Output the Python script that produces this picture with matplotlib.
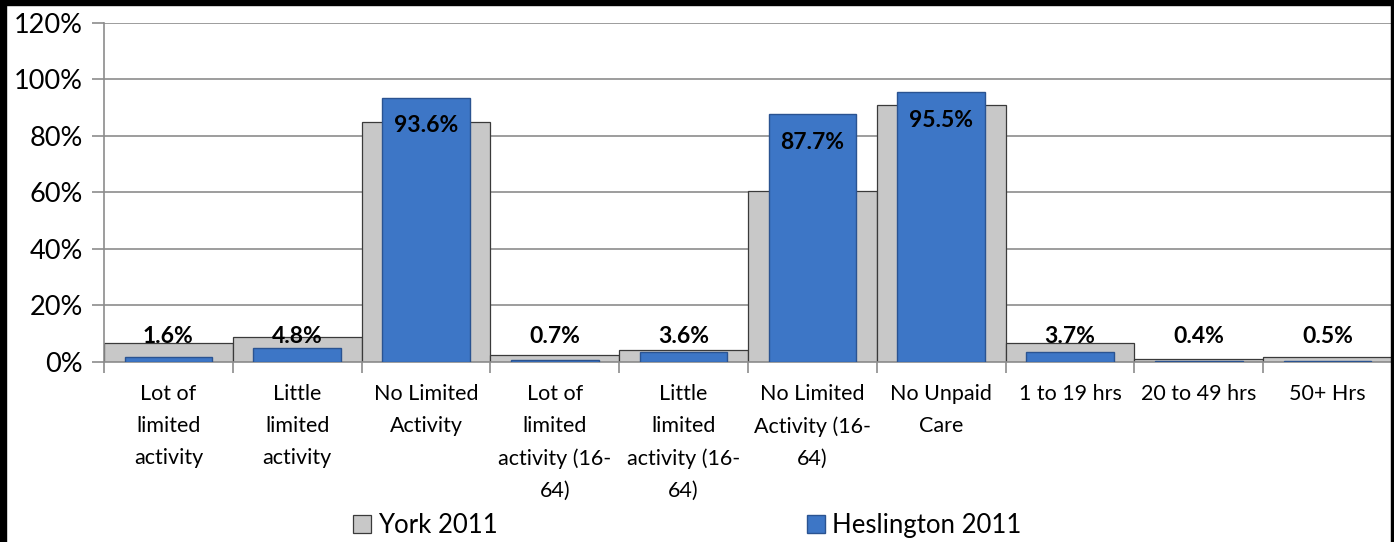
import numpy as np
import matplotlib.pyplot as plt
from matplotlib.patches import Rectangle

plt.rcParams['font.family'] = ['Lato', 'DejaVu Sans']

categories = ['Lot of\nlimited\nactivity', 'Little\nlimited\nactivity', 'No Limited\nActivity',
              'Lot of\nlimited\nactivity (16-\n64)', 'Little\nlimited\nactivity (16-\n64)',
              'No Limited\nActivity (16-\n64)', 'No Unpaid\nCare', '1 to 19 hrs',
              '20 to 49 hrs', '50+ Hrs']
york = [6.6, 8.7, 84.8, 2.5, 4.1, 60.6, 91.0, 6.6, 1.0, 1.9]
heslington = [1.6, 4.8, 93.6, 0.7, 3.6, 87.7, 95.5, 3.7, 0.4, 0.5]
yticks = [0, 20, 40, 60, 80, 100, 120]

fig = plt.figure(figsize=(13.94, 5.42), dpi=100)
ax = fig.add_axes([0.0746, 0.3321, 0.9240, 0.6255])

x = np.arange(len(categories))
b1 = ax.bar(x, york, width=1.0, color='#C8C8C8', edgecolor='#3A3A3A', linewidth=0.9,
            label='York 2011', zorder=2)
b2 = ax.bar(x, heslington, width=0.68, color='#3D76C6', edgecolor='#2A5391', linewidth=1.0,
            label='Heslington 2011', zorder=3)

# data labels: inside end for tall bars, fixed low spot for small ones
for xi, v in zip(x, heslington):
    ax.text(xi, max(v - 10, 9), f'{v:.1f}%', ha='center', va='center',
            fontsize=16.5, fontweight='bold', color='black', zorder=4)

ax.set_xlim(-0.5, len(categories) - 0.5)
ax.set_ylim(0, 120)
ax.set_yticks(yticks)
ax.set_yticklabels([f'{t}%' for t in yticks], fontsize=19.5)
ax.yaxis.grid(True, color='#8C8C8C', linewidth=1.2, zorder=0)
ax.set_axisbelow(True)

ax.set_xticks(x)
ax.set_xticklabels(categories, fontsize=15.5, linespacing=1.75, va='top')
ax.set_xticks(np.arange(len(categories) + 1) - 0.5, minor=True)
ax.tick_params(axis='x', which='major', length=0, pad=16)
ax.tick_params(axis='x', which='minor', length=8, color='#8C8C8C', width=1.2)
ax.tick_params(axis='y', length=9, color='#8C8C8C', width=1.2, pad=6)

for s in ['top', 'right']:
    ax.spines[s].set_visible(False)
for s in ['left', 'bottom']:
    ax.spines[s].set_color('#8C8C8C')
    ax.spines[s].set_linewidth(1.2)

fig.legend(handles=[b1, b2], loc='center', bbox_to_anchor=(0.493, 0.03), ncol=2,
           frameon=False, fontsize=18.5, handlelength=0.7, handleheight=0.7,
           handletextpad=0.3, columnspacing=12.0)

# chart frame edges
fig.add_artist(Rectangle((0, 1 - 5 / 542), 1, 5 / 542, transform=fig.transFigure,
                         color='black', zorder=10))
fig.add_artist(Rectangle((0, 0), 6 / 1394, 1, transform=fig.transFigure,
                         color='black', zorder=10))
fig.add_artist(Rectangle((1391 / 1394, 0), 2 / 1394, 1, transform=fig.transFigure,
                         color='black', zorder=10))

fig.savefig('out.png', dpi=100)
